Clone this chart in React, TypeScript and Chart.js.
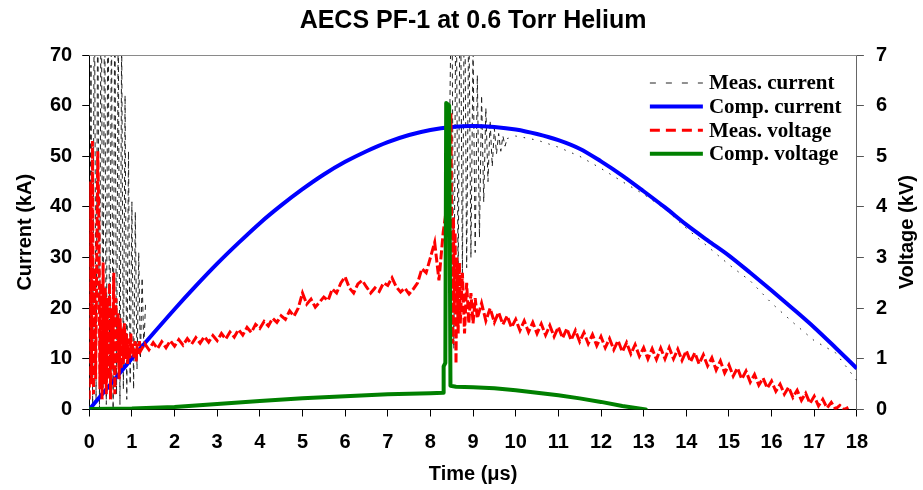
import React, { useEffect, useRef } from 'react';
import { Chart, registerables } from 'chart.js';

Chart.register(...registerables);

// ---------- data ----------
const chartTitle = 'AECS PF-1 at 0.6 Torr Helium';
const xTitle = 'Time (μs)';
const yLeftTitle = 'Current (kA)';
const yRightTitle = 'Voltage (kV)';
const legendLabels = ['Meas. current', 'Comp. current', 'Meas. voltage', 'Comp. voltage'];

// Computed current (kA)
const compCurrentTime = [0, 0.5, 1, 1.5, 2, 2.5, 3, 3.5, 4, 4.5, 5, 5.5, 6, 6.5, 7, 7.5, 8, 8.5, 9, 9.5, 10, 10.5, 11, 11.5, 12, 12.5, 13, 13.5, 14, 14.5, 15, 15.5, 16, 16.5, 17, 17.5, 18];
const compCurrentKA = [0, 5, 10.1, 15, 19.8, 24.4, 28.8, 32.9, 36.8, 40.3, 43.5, 46.4, 48.9, 51, 52.8, 54.2, 55.2, 55.8, 56, 55.8, 55.3, 54.4, 53.2, 51.5, 49, 46.2, 43.1, 39.9, 36.5, 33.4, 30.4, 27, 23.5, 19.9, 16.2, 12.2, 8.1];

// Computed voltage (kV)
const compVoltageTime = [0, 1, 2, 3, 4, 5, 6, 7, 8, 8.3, 8.31, 8.35, 8.37, 8.44, 8.47, 8.6, 9, 9.5, 10, 10.5, 11, 11.5, 12, 12.5, 13.05];
const compVoltageKV = [0.01, 0.02, 0.05, 0.11, 0.17, 0.22, 0.26, 0.3, 0.32, 0.33, 0.85, 0.92, 6.05, 6.0, 0.47, 0.45, 0.44, 0.42, 0.38, 0.33, 0.28, 0.22, 0.15, 0.07, 0];

// Measured current (kA): breakdown ringing, pinch ringing, late trace
const measCurrentEarlyStart = 0;
const measCurrentEarlyStep = 0.04;
const measCurrentEarlyKA = [0, 68, 1, 90, 2, 85, 0, 95, 3, 88, 1, 92, 2, 80, 0, 86, 3, 78, 1, 74, 4, 62, 2, 51, 5, 41, 4, 39, 8, 31, 10, 26, 12, 21];
const measCurrentPinchStart = 8.45;
const measCurrentPinchStep = 0.05;
const measCurrentPinchKA = [55, 90, 12, 90, 25, 90, 27, 88, 28, 80, 30, 72, 31, 66, 34, 62, 41, 59.5, 45, 57, 48, 55.5, 50.5, 54.5, 51, 54, 52, 53.5];
const measCurrentLateStart = 10;
const measCurrentLateStep = 0.5;
const measCurrentLateKA = [54, 53.2, 51.8, 50, 47.6, 45, 42.5, 39.6, 35.8, 32.2, 28.6, 25.4, 21, 17.2, 13.6, 11.2, 5.7];

// Measured voltage (kV)
const measVoltageEarlyStart = 0;
const measVoltageEarlyStep = 0.025;
const measVoltageEarlyKV = [0.2, 4.5, 0.5, 5.3, 0.3, 2.8, 0.6, 2.9, 5.1, 3.8, 0.4, 2.5, 0.2, 2.9, 0.5, 2.4, 0.3, 2.2, 0.6, 2.5, 0.2, 2.0, 0.8, 2.7, 0.3, 2.2, 0.9, 1.9, 0.6, 1.8, 0.8, 1.6, 0.9, 1.7, 1.0, 1.5, 0.9, 1.4, 1.0, 1.5, 1.1, 1.3, 1.0, 1.35, 0.95, 1.3, 1.1, 1.35, 1.15];
const measVoltageRiseStart = 1.3;
const measVoltageRiseStep = 0.1;
const measVoltageRiseKV = [1.30, 1.18, 1.32, 1.20, 1.34, 1.22, 1.36, 1.25, 1.38, 1.27, 1.40, 1.29, 1.42, 1.31, 1.44, 1.33, 1.46, 1.36, 1.50, 1.39, 1.53, 1.43, 1.58, 1.47, 1.62, 1.52, 1.68, 1.60, 1.74, 1.65, 1.80, 1.72, 1.85, 1.78, 1.95, 1.84, 2.00, 2.30, 2.08, 2.18, 2.02, 2.12, 2.22, 2.15, 2.38, 2.30, 2.50, 2.62, 2.40, 2.30, 2.48, 2.55, 2.42, 2.30, 2.40, 2.33, 2.50, 2.45, 2.60, 2.42, 2.32, 2.40, 2.28, 2.38, 2.50, 2.78, 2.70, 3.00, 3.30, 2.55, 3.50];
const measVoltagePinchTime = [8.35, 8.42, 8.48, 8.50, 8.52, 8.54, 8.56, 8.58, 8.60, 8.62, 8.65, 8.68, 8.70, 8.75, 8.80, 8.85, 8.90, 8.95, 9.00, 9.05, 9.10, 9.20, 9.30, 9.40, 9.50, 9.60, 9.70, 9.80, 9.90];
const measVoltagePinchKV = [3.8, 4.5, 5.85, 3.2, 1.3, 3.8, 2.0, 3.5, 0.9, 3.0, 1.5, 2.9, 1.7, 2.7, 1.5, 2.5, 1.7, 2.3, 1.7, 2.2, 1.8, 2.1, 1.75, 2.0, 1.72, 1.92, 1.68, 1.85, 1.62];
const measVoltageTailStart = 10;
const measVoltageTailStep = 0.1;
const measVoltageTailKV = [1.78, 1.56, 1.75, 1.53, 1.72, 1.50, 1.69, 1.47, 1.66, 1.44, 1.63, 1.41, 1.60, 1.37, 1.56, 1.34, 1.52, 1.30, 1.48, 1.26, 1.44, 1.22, 1.40, 1.18, 1.36, 1.14, 1.32, 1.10, 1.28, 1.05, 1.22, 1.00, 1.20, 0.99, 1.21, 1.00, 1.22, 1.00, 1.19, 0.97, 1.16, 0.94, 1.12, 0.90, 1.08, 0.86, 1.02, 0.78, 0.96, 0.72, 0.88, 0.66, 0.82, 0.60, 0.76, 0.54, 0.69, 0.48, 0.62, 0.42, 0.56, 0.36, 0.50, 0.30, 0.44, 0.24, 0.38, 0.18, 0.32, 0.12, 0.26, 0.07, 0.20, 0.03, 0.14, 0.01, 0.08, 0.00, 0.04];

// axis ranges
const xRange = { min: 0, max: 18, step: 1 };
const yLeftRange = { min: 0, max: 70, step: 10 };
const yRightRange = { min: 0, max: 7, step: 1 };

// ---------- helpers ----------
type Pt = { x: number; y: number | null };
const zip = (xs: number[], ys: number[]): Pt[] => xs.map((x, i) => ({ x, y: ys[i] }));
const sampled = (t0: number, dt: number, ys: number[]): Pt[] =>
  ys.map((y, i) => ({ x: Math.round((t0 + i * dt) * 1000) / 1000, y }));

const SANS = "'Liberation Sans', Arial, sans-serif";
const SERIF = "'Liberation Serif', 'Times New Roman', serif";

const frameAndLegend = {
  id: 'frameAndLegend',
  afterDraw(chart: any) {
    const { ctx, chartArea } = chart;
    ctx.save();
    // top frame line
    ctx.strokeStyle = '#8a8a8a';
    ctx.lineWidth = 1;
    ctx.beginPath();
    ctx.moveTo(chartArea.left, Math.round(chartArea.top) + 0.5);
    ctx.lineTo(chartArea.right, Math.round(chartArea.top) + 0.5);
    ctx.stroke();

    // right axis title (reads bottom to top)
    ctx.save();
    ctx.translate(chart.width - 16, (chartArea.top + chartArea.bottom) / 2);
    ctx.rotate(-Math.PI / 2);
    ctx.font = `bold 20px ${SANS}`;
    ctx.fillStyle = '#000';
    ctx.textAlign = 'center';
    ctx.textBaseline = 'middle';
    ctx.fillText(yRightTitle, 0, 0);
    ctx.restore();

    // legend inside plot area
    ctx.font = `bold 21px ${SERIF}`;
    ctx.textBaseline = 'middle';
    ctx.textAlign = 'left';
    chart.data.datasets.forEach((ds: any, i: number) => {
      const y = chartArea.top + 28 + i * 23.6;
      const x0 = chartArea.right - 207;
      ctx.beginPath();
      ctx.setLineDash(ds.legendDash || []);
      ctx.lineCap = 'butt';
      ctx.strokeStyle = ds.borderColor;
      ctx.lineWidth = ds.legendWidth || ds.borderWidth;
      ctx.moveTo(x0, y);
      ctx.lineTo(x0 + 53, y);
      ctx.stroke();
      ctx.setLineDash([]);
      ctx.fillStyle = '#000';
      ctx.fillText(ds.label, x0 + 59, y + 1);
    });
    ctx.restore();
  },
};

export default function App() {
  const ref = useRef<HTMLCanvasElement | null>(null);

  useEffect(() => {
    document.body.style.margin = '0';
    const canvas = ref.current;
    if (!canvas) return;

    const measCurrent: Pt[] = [
      ...sampled(measCurrentEarlyStart, measCurrentEarlyStep, measCurrentEarlyKA),
      { x: 1.4, y: null },
      ...sampled(measCurrentPinchStart, measCurrentPinchStep, measCurrentPinchKA),
      ...sampled(measCurrentLateStart, measCurrentLateStep, measCurrentLateKA),
    ];
    const measVoltage: Pt[] = [
      ...sampled(measVoltageEarlyStart, measVoltageEarlyStep, measVoltageEarlyKV),
      ...sampled(measVoltageRiseStart, measVoltageRiseStep, measVoltageRiseKV),
      ...zip(measVoltagePinchTime, measVoltagePinchKV),
      ...sampled(measVoltageTailStart, measVoltageTailStep, measVoltageTailKV),
    ];

    const tickFont = { family: SANS, size: 20, weight: 'bold' as const };

    const chart = new Chart(canvas, {
      type: 'line',
      data: {
        datasets: [
          {
            label: legendLabels[0],
            data: measCurrent,
            yAxisID: 'y',
            borderColor: '#222',
            borderWidth: 1,
            borderDash: [5, 4],
            legendDash: [6, 10],
            pointRadius: 0,
            spanGaps: false,
            order: 3,
            segment: {
              borderDash: (ctx: any) => (ctx.p0.parsed.x >= 9.79 ? [1.5, 7] : undefined),
            },
          } as any,
          {
            label: legendLabels[1],
            data: zip(compCurrentTime, compCurrentKA),
            yAxisID: 'y',
            borderColor: '#0000ff',
            borderWidth: 4,
            pointRadius: 0,
            cubicInterpolationMode: 'monotone',
            order: 2,
          } as any,
          {
            label: legendLabels[2],
            data: measVoltage,
            yAxisID: 'y2',
            borderColor: '#ff0000',
            borderWidth: 3,
            borderDash: [9, 3],
            legendDash: [10, 6],
            pointRadius: 0,
            order: 1,
          } as any,
          {
            label: legendLabels[3],
            data: zip(compVoltageTime, compVoltageKV),
            yAxisID: 'y2',
            borderColor: '#008000',
            borderWidth: 4,
            borderCapStyle: 'round',
            borderJoinStyle: 'round',
            pointRadius: 0,
            order: 0,
          } as any,
        ],
      },
      options: {
        responsive: false,
        animation: false,
        events: [],
        layout: { padding: { left: 13, right: 24, top: 0, bottom: 0 } },
        plugins: {
          legend: { display: false },
          tooltip: { enabled: false },
          title: {
            display: true,
            text: chartTitle,
            color: '#000',
            font: { family: SANS, size: 25, weight: 'bold' },
            padding: { top: 6, bottom: 19 },
            fullSize: false,
          },
        },
        scales: {
          x: {
            type: 'linear',
            min: xRange.min,
            max: xRange.max,
            ticks: { stepSize: xRange.step, font: tickFont, color: '#000', padding: 14, autoSkip: false, maxRotation: 0 },
            grid: { drawOnChartArea: false, drawTicks: true, tickLength: 7, color: '#000' },
            border: { display: true, color: '#000', width: 1 },
            title: { display: true, text: xTitle, color: '#000', font: tickFont, padding: { top: -6.5, bottom: 4 } },
          },
          y: {
            type: 'linear',
            position: 'left',
            min: yLeftRange.min,
            max: yLeftRange.max,
            ticks: { stepSize: yLeftRange.step, font: tickFont, color: '#000', padding: 10 },
            grid: { drawOnChartArea: false, drawTicks: true, tickLength: 7, color: '#000' },
            border: { display: true, color: '#000', width: 1 },
            title: { display: true, text: yLeftTitle, color: '#000', font: tickFont, padding: { top: 0, bottom: 3 } },
          },
          y2: {
            type: 'linear',
            position: 'right',
            min: yRightRange.min,
            max: yRightRange.max,
            ticks: { stepSize: yRightRange.step, font: tickFont, color: '#000', padding: 12 },
            grid: { drawOnChartArea: false, drawTicks: true, tickLength: 7, color: '#555' },
            border: { display: true, color: '#666', width: 1 },
          },
        },
      } as any,
      plugins: [frameAndLegend],
    });

    return () => chart.destroy();
  }, []);

  return (
    <div style={{ width: 923, height: 490, position: 'relative', background: '#fff' }}>
      <canvas ref={ref} width={923} height={490} style={{ display: 'block' }} />
    </div>
  );
}
